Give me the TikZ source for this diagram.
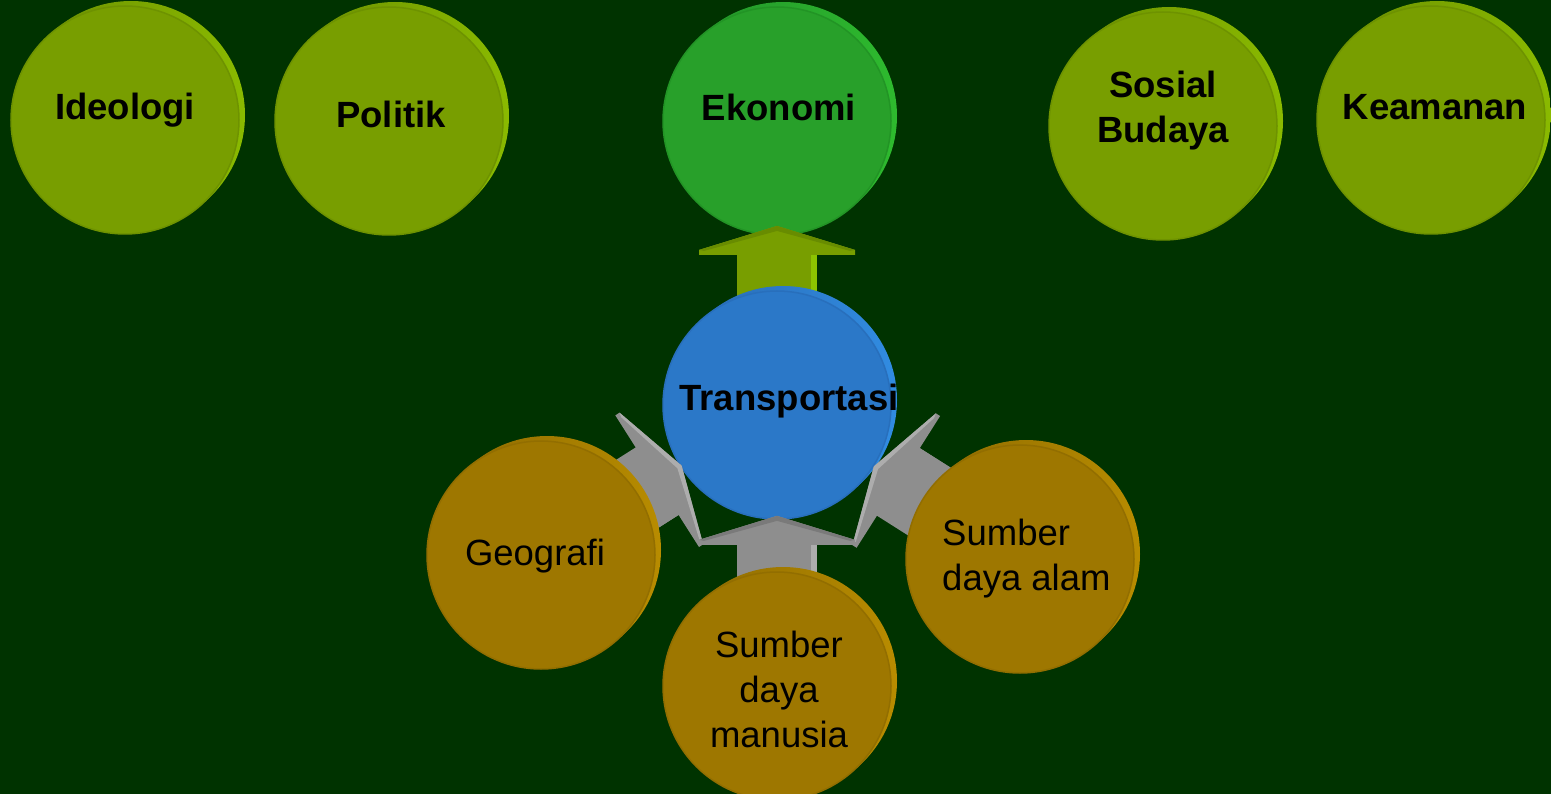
\documentclass[tikz,border=0pt]{standalone}
\usepackage{fontspec}
\setmainfont{Liberation Sans}
\usetikzlibrary{shadings}

\definecolor{bg}{HTML}{003300}
\definecolor{oliveface}{HTML}{789E00}
\definecolor{oliveline}{HTML}{6E9200}
\definecolor{olivedark}{HTML}{688C00}
\definecolor{olivelight}{HTML}{8ABA00}
\definecolor{greenface}{HTML}{28A02A}
\definecolor{greenline}{HTML}{229425}
\definecolor{greendark}{HTML}{21902A}
\definecolor{greenlight}{HTML}{2EBA2E}
\definecolor{blueface}{HTML}{2B78C8}
\definecolor{blueline}{HTML}{286FBC}
\definecolor{bluedark}{HTML}{2868B0}
\definecolor{bluelight}{HTML}{318CE2}
\definecolor{ochreface}{HTML}{9E7700}
\definecolor{ochreline}{HTML}{926E00}
\definecolor{ochredark}{HTML}{8A6800}
\definecolor{ochrelight}{HTML}{B88C00}
\definecolor{grayface}{HTML}{8E8E8E}
\definecolor{graylight}{HTML}{ADADAD}
\definecolor{graydark}{HTML}{7A7A7A}
\definecolor{arrowlight}{HTML}{8CC400}

\begin{document}
\begin{tikzpicture}[x=1pt,y=-1pt,
  disc/.style={circle, minimum size=228, inner sep=0, line width=1.5},
  rimmed/.style n args={2}{preaction={draw=none,
      transform canvas={shift={(6,-5)}}, shade,
      upper left=#1, lower left=#1, upper right=#2, lower right=#2}},
  olivedisc/.style={disc, fill=oliveface, draw=oliveline, rimmed={olivedark}{olivelight}},
  greendisc/.style={disc, fill=greenface, draw=greenline, rimmed={greendark}{greenlight}},
  bluedisc/.style={disc, fill=blueface, draw=blueline, rimmed={bluedark}{bluelight}},
  ochredisc/.style={disc, fill=ochreface, draw=ochreline, rimmed={ochredark}{ochrelight}},
  lbl/.style={inner sep=0, text=black, font=\fontsize{36.5}{45}\selectfont},
  bl/.style={lbl, font=\fontsize{36.5}{45}\selectfont\bfseries},
  pics/blockarrow/.style n args={3}{code={
    \fill[#1] (-95,-40) rectangle (0,40);
    \fill[#3] (-95,34) rectangle (0,40);
    \fill[#1] (-5,-78) -- (0,-78) -- (24,0) -- (0,78) -- (-5,78) -- cycle;
    \fill[#2] (0,-78) -- (24,0) -- (0,78) -- (-1,73) -- (19,0) -- (-1,-73) -- cycle;
  }}
]
\useasboundingbox (0,0) rectangle (1551,794);
\clip (0,0) rectangle (1551,794);
\fill[bg] (0,0) rectangle (1551,794);

% upper row of aspects
\node[olivedisc] (ideo) at (125,120) {};
\node[olivedisc] (poli) at (389,121) {};
\node[greendisc] (eko)  at (777,121) {};
\node[olivedisc] (sosb) at (1163,126) {};
\node[olivedisc] (keam) at (1431,120) {};

% transport feeds the economy
\coordinate (tc) at (777,405);
\path (tc) -- (eko.center) pic[pos=0.546, sloped, allow upside down]
  {blockarrow={oliveface}{olivedark}{arrowlight}};

\node[bluedisc] (trans) at (tc) {};

% factors that shape transport
\coordinate (gc) at (541,555);
\coordinate (mc) at (777,686);
\coordinate (ac) at (1020,559);
\path (gc) -- (trans.center) pic[pos=0.51, sloped, allow upside down]
  {blockarrow={grayface}{graylight}{grayface}};
\path (ac) -- (trans.center) pic[pos=0.518, sloped, allow upside down]
  {blockarrow={grayface}{graylight}{grayface}};
\path (mc) -- (trans.center) pic[pos=0.52, sloped, allow upside down]
  {blockarrow={grayface}{graydark}{graylight}};

\node[ochredisc] (geo) at (gc) {};
\node[ochredisc] (sdm) at (mc) {};
\node[ochredisc] (sda) at (ac) {};

% labels (multi-line labels are placed by the baseline of their last line)
\node[bl, anchor=base] (ideo-t) at (125,120) {Ideologi};
\node[bl, anchor=base] (poli-t) at (391,128) {Politik};
\node[bl, anchor=base] (eko-t)  at (779,121) {Ekonomi};
\node[bl, anchor=base, align=center] (sosb-t) at (1163,143) {Sosial\\Budaya};
\node[bl, anchor=base] (keam-t) at (1435,120) {Keamanan};
\node[bl, anchor=base] (trans-t) at (789,410) {Transportasi};
\node[lbl, anchor=base] (geo-t) at (535,565) {Geografi};
\node[lbl, anchor=base, align=center] (sdm-t) at (779,747) {Sumber\\daya\\manusia};
\node[lbl, anchor=base west, align=left] (sda-t) at (942,590) {Sumber\\daya alam};
\end{tikzpicture}
\end{document}
